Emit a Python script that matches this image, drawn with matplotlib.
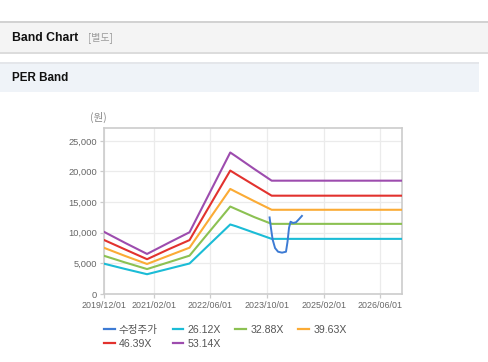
import matplotlib.pyplot as plt
import numpy as np
from matplotlib.patches import Rectangle

# band turning points
band_dates = ['2019-12-01', '2020-06-01', '2020-12-05', '2021-06-15', '2021-12-05',
              '2022-11-20', '2023-01-10', '2023-06-15', '2023-11-11', '2026-12-05']
band_26 = [4950, 4080, 3230, 4150, 4980, 11350, 11050, 10000, 9000, 9000]
band_32 = [6240, 5140, 4070, 5220, 6260, 14280, 13850, 12550, 11450, 11450]
band_39 = [7540, 6200, 4900, 6300, 7560, 17150, 16650, 15150, 13750, 13750]
band_46 = [8820, 7260, 5680, 7360, 8800, 20150, 19550, 17750, 16050, 16050]
band_53 = [10150, 8330, 6540, 8420, 10080, 23100, 22450, 20400, 18500, 18500]

price_dates = ['2023-10-24', '2023-11-06', '2023-11-19', '2023-12-10', '2024-01-05',
               '2024-02-08', '2024-03-13', '2024-03-26', '2024-04-08', '2024-04-21',
               '2024-05-12', '2024-06-07', '2024-07-02', '2024-07-28']
price = [12500, 10600, 8900, 7500, 6900, 6750, 6900, 8500, 10800, 11800,
         11600, 11700, 12200, 12750]

labels = ['수정주가', '26.12X', '32.88X', '39.63X', '46.39X', '53.14X']
colors = ['#3d7bd4', '#1bbcd6', '#8cc152', '#fbab35', '#e2322e', '#9d4cae']

x_ticks = ['2019/12/01', '2021/02/01', '2022/06/01', '2023/10/01', '2025/02/01', '2026/06/01']
y_ticks = [0, 5000, 10000, 15000, 20000, 25000]

latin_kr = ['Liberation Sans', 'Noto Sans CJK KR']

fig = plt.figure(figsize=(4.88, 3.62), dpi=100)

# page header boxes
fig.patches.append(Rectangle((0, 1 - 53 / 362), 1, 31 / 362, transform=fig.transFigure,
                             facecolor='#f4f4f4', edgecolor='none', zorder=0))
fig.patches.append(Rectangle((0, 1 - 54 / 362), 1, 1.5 / 362, transform=fig.transFigure,
                             facecolor='#dcdcdc', edgecolor='none', zorder=0))
fig.patches.append(Rectangle((0, 1 - 22.5 / 362), 1, 1 / 362, transform=fig.transFigure,
                             facecolor='#d2d2d2', edgecolor='none', zorder=0))
fig.patches.append(Rectangle((0, 1 - 92 / 362), 479 / 488, 29 / 362, transform=fig.transFigure,
                             facecolor='#eff3f8', edgecolor='none', zorder=0))
fig.patches.append(Rectangle((0, 1 - 63.5 / 362), 479 / 488, 1 / 362, transform=fig.transFigure,
                             facecolor='#e4e6ea', edgecolor='none', zorder=0))

fig.text(12 / 488, 1 - 38 / 362, 'Band Chart', family=latin_kr, fontweight='bold',
         fontsize=8.8, color='#111111', va='center')
fig.text(88 / 488, 1 - 38 / 362, '[별도]', family=['Noto Sans CJK KR'],
         fontsize=7.2, color='#9a9a9a', va='center')
fig.text(12 / 488, 1 - 78 / 362, 'PER Band', family=latin_kr, fontweight='bold',
         fontsize=8.4, color='#111111', va='center')
fig.text(98 / 488, 1 - 117 / 362, '(원)', family=['Noto Sans CJK KR'],
         fontsize=7.6, color='#888888', ha='center', va='center')

ax = fig.add_axes([104 / 488, 68 / 362, 298 / 488, 166 / 362])

bd = [np.datetime64(d) for d in band_dates]
pd_ = [np.datetime64(d) for d in price_dates]

lines = []
lines.append(ax.plot(pd_, price, color=colors[0], lw=1.4, zorder=5)[0])
for vals, c in zip([band_26, band_32, band_39, band_46, band_53], colors[1:]):
    lines.append(ax.plot(bd, vals, color=c, lw=1.5, zorder=3)[0])

ax.set_xlim(np.datetime64('2019-12-01'), np.datetime64('2026-12-05'))
ax.set_ylim(0, 27100)

xt = [np.datetime64(t.replace('/', '-')) for t in x_ticks]
ax.set_xticks(xt)
ax.set_xticklabels(x_ticks)
ax.set_yticks(y_ticks)
ax.set_yticklabels([f'{v:,}' for v in y_ticks])

ax.grid(True, color='#ebebeb', lw=0.9)
ax.set_axisbelow(True)
for s in ax.spines.values():
    s.set_color('#cccccc')
    s.set_linewidth(1.2)
ax.tick_params(axis='both', colors='#cccccc', length=3, width=0.9,
               labelcolor='#666666', labelsize=6.7, pad=2)
for t in ax.get_xticklabels() + ax.get_yticklabels():
    t.set_family('Liberation Sans')
for t in ax.get_xticklabels():
    t.set_fontsize(6.4)

# order so the column-filled legend reads row by row
order = [0, 4, 1, 5, 2, 3]
leg = fig.legend([lines[i] for i in order], [labels[i] for i in order],
                 loc='upper left', bbox_to_anchor=(104 / 488, 1 - 325 / 362),
                 ncol=4, frameon=False, borderpad=0, borderaxespad=0,
                 handlelength=1.0, handletextpad=0.4, columnspacing=1.4,
                 labelspacing=0.35, prop={'family': latin_kr, 'size': 7.6})
for t in leg.get_texts():
    t.set_color('#555555')
for h in leg.legend_handles:
    h.set_linewidth(1.6)

fig.savefig('out.png', dpi=100)
